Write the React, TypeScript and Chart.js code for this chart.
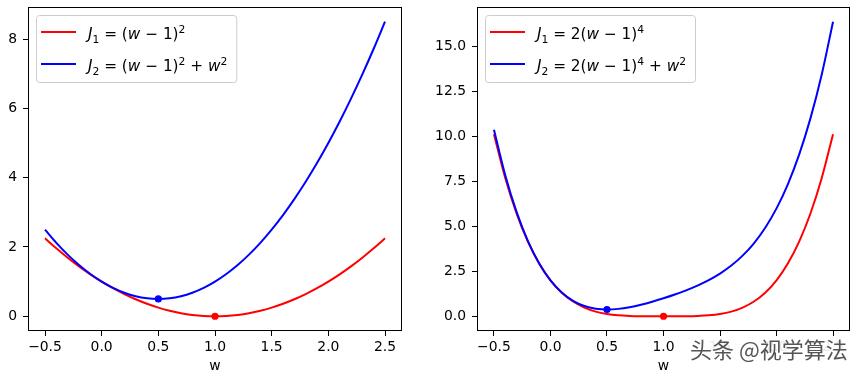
import React, { useEffect, useRef } from 'react';
import { Chart, registerables } from 'chart.js';

Chart.register(...registerables);

// ---------- data ----------
const W_VALUES = [
  -0.5, -0.4, -0.3, -0.2, -0.1, 0, 0.1, 0.2, 0.3, 0.4, 0.5, 0.6, 0.7, 0.8, 0.9, 1.0,
  1.1, 1.2, 1.3, 1.4, 1.5, 1.6, 1.7, 1.8, 1.9, 2.0, 2.1, 2.2, 2.3, 2.4, 2.5,
];

// left panel: J1 = (w-1)^2, J2 = (w-1)^2 + w^2
const LEFT_J1 = [
  2.25, 1.96, 1.69, 1.44, 1.21, 1.0, 0.81, 0.64, 0.49, 0.36, 0.25, 0.16, 0.09, 0.04, 0.01, 0.0,
  0.01, 0.04, 0.09, 0.16, 0.25, 0.36, 0.49, 0.64, 0.81, 1.0, 1.21, 1.44, 1.69, 1.96, 2.25,
];
const LEFT_J2 = [
  2.5, 2.12, 1.78, 1.48, 1.22, 1.0, 0.82, 0.68, 0.58, 0.52, 0.5, 0.52, 0.58, 0.68, 0.82, 1.0,
  1.22, 1.48, 1.78, 2.12, 2.5, 2.92, 3.38, 3.88, 4.42, 5.0, 5.62, 6.28, 6.98, 7.72, 8.5,
];

// right panel: J1 = 2(w-1)^4, J2 = 2(w-1)^4 + w^2
const RIGHT_J1 = [
  10.125, 7.683, 5.712, 4.147, 2.928, 2.0, 1.312, 0.819, 0.48, 0.259, 0.125, 0.051, 0.016, 0.003, 0.0002, 0.0,
  0.0002, 0.003, 0.016, 0.051, 0.125, 0.259, 0.48, 0.819, 1.312, 2.0, 2.928, 4.147, 5.712, 7.683, 10.125,
];
const RIGHT_J2 = [
  10.375, 7.843, 5.802, 4.187, 2.938, 2.0, 1.322, 0.859, 0.57, 0.419, 0.375, 0.411, 0.506, 0.643, 0.81, 1.0,
  1.21, 1.443, 1.706, 2.011, 2.375, 2.819, 3.37, 4.059, 4.922, 6.0, 7.338, 8.987, 11.002, 13.443, 16.375,
];

// minimum markers
const LEFT_MIN_J1 = [{ x: 1.0, y: 0.0 }];
const LEFT_MIN_J2 = [{ x: 0.5, y: 0.5 }];
const RIGHT_MIN_J1 = [{ x: 1.0, y: 0.0 }];
const RIGHT_MIN_J2 = [{ x: 0.5, y: 0.375 }];

// ticks
const X_TICKS = [-0.5, 0, 0.5, 1.0, 1.5, 2.0, 2.5];
const LEFT_Y_TICKS = [0, 2, 4, 6, 8];
const RIGHT_Y_TICKS = [0, 2.5, 5.0, 7.5, 10.0, 12.5, 15.0];

const X_TITLE = 'w';
const WATERMARK = '头条 @视学算法';

// legend labels (math segments)
type Seg = { t: string; it?: boolean; s?: 'sub' | 'sup' };
const LEFT_LABEL_J1: Seg[] = [
  { t: 'J', it: true }, { t: '1', s: 'sub' }, { t: ' = (' }, { t: 'w', it: true }, { t: ' − 1)' }, { t: '2', s: 'sup' },
];
const LEFT_LABEL_J2: Seg[] = [
  { t: 'J', it: true }, { t: '2', s: 'sub' }, { t: ' = (' }, { t: 'w', it: true }, { t: ' − 1)' }, { t: '2', s: 'sup' },
  { t: ' + ' }, { t: 'w', it: true }, { t: '2', s: 'sup' },
];
const RIGHT_LABEL_J1: Seg[] = [
  { t: 'J', it: true }, { t: '1', s: 'sub' }, { t: ' = 2(' }, { t: 'w', it: true }, { t: ' − 1)' }, { t: '4', s: 'sup' },
];
const RIGHT_LABEL_J2: Seg[] = [
  { t: 'J', it: true }, { t: '2', s: 'sub' }, { t: ' = 2(' }, { t: 'w', it: true }, { t: ' − 1)' }, { t: '4', s: 'sup' },
  { t: ' + ' }, { t: 'w', it: true }, { t: '2', s: 'sup' },
];

const RED = '#ff0000';
const BLUE = '#0000ff';
const FONT_FAMILY = '"DejaVu Sans", sans-serif';
const TICK_SIZE = 13.9;
const LEGEND_SIZE = 15.3;

// ---------- helpers ----------
function segFont(seg: Seg, size: number) {
  const sz = seg.s ? size * 0.7 : size;
  return `${seg.it ? 'italic ' : ''}${sz}px ${FONT_FAMILY}`;
}

function drawSegs(ctx: CanvasRenderingContext2D, segs: Seg[], x: number, y: number, size: number, draw: boolean) {
  let cx = x;
  for (const seg of segs) {
    ctx.font = segFont(seg, size);
    const dy = seg.s === 'sub' ? size * 0.22 : seg.s === 'sup' ? -size * 0.42 : 0;
    if (draw) ctx.fillText(seg.t, cx, y + dy);
    cx += ctx.measureText(seg.t).width;
  }
  return cx - x;
}

function roundRect(ctx: CanvasRenderingContext2D, x: number, y: number, w: number, h: number, r: number) {
  ctx.beginPath();
  ctx.moveTo(x + r, y);
  ctx.lineTo(x + w - r, y);
  ctx.quadraticCurveTo(x + w, y, x + w, y + r);
  ctx.lineTo(x + w, y + h - r);
  ctx.quadraticCurveTo(x + w, y + h, x + w - r, y + h);
  ctx.lineTo(x + r, y + h);
  ctx.quadraticCurveTo(x, y + h, x, y + h - r);
  ctx.lineTo(x, y + r);
  ctx.quadraticCurveTo(x, y, x + r, y);
  ctx.closePath();
}

const framePlugin = {
  id: 'frame',
  afterDatasetsDraw(chart: any) {
    const { ctx, chartArea: a } = chart;
    ctx.save();
    ctx.strokeStyle = '#000';
    ctx.lineWidth = 1;
    ctx.strokeRect(a.left + 0.5, a.top + 0.5, a.right - a.left - 1, a.bottom - a.top - 1);
    ctx.restore();
  },
};

const mathLegendPlugin = {
  id: 'mathLegend',
  afterDraw(chart: any, _args: any, opts: any) {
    const rows: { segs: Seg[]; color: string }[] = opts.rows || [];
    if (!rows.length) return;
    const { ctx, chartArea: a } = chart;
    ctx.save();
    let maxW = 0;
    for (const r of rows) maxW = Math.max(maxW, drawSegs(ctx, r.segs, 0, 0, LEGEND_SIZE, false));
    const bx = a.left + 8;
    const by = a.top + 8;
    const bw = 52 + maxW + 9;
    const bh = 67;
    roundRect(ctx, bx + 0.5, by + 0.5, bw, bh, 3);
    ctx.fillStyle = 'rgba(255,255,255,0.8)';
    ctx.fill();
    ctx.strokeStyle = '#cccccc';
    ctx.lineWidth = 1;
    ctx.stroke();
    rows.forEach((r, i) => {
      const cy = by + 17 + i * 32;
      ctx.strokeStyle = r.color;
      ctx.lineWidth = 2;
      ctx.beginPath();
      ctx.moveTo(bx + 5, cy);
      ctx.lineTo(bx + 40, cy);
      ctx.stroke();
      ctx.fillStyle = '#000';
      ctx.textBaseline = 'alphabetic';
      ctx.textAlign = 'left';
      drawSegs(ctx, r.segs, bx + 52, cy + 7.4, LEGEND_SIZE, true);
    });
    ctx.restore();
  },
};

const watermarkPlugin = {
  id: 'watermark',
  afterDraw(chart: any, _args: any, opts: any) {
    if (!opts.text) return;
    const { ctx } = chart;
    ctx.save();
    ctx.fillStyle = 'rgba(255,255,255,0.9)';
    ctx.fillRect(256, 337, 168, 27);
    ctx.font = `22px "Noto Sans CJK SC", sans-serif`;
    ctx.textBaseline = 'middle';
    ctx.textAlign = 'left';
    ctx.fillStyle = '#555555';
    ctx.fillText(opts.text, 260, 350);
    ctx.restore();
  },
};

function fmtX(v: number) {
  return v.toFixed(1).replace('-', '−');
}

type PanelCfg = {
  j1: number[];
  j2: number[];
  min1: { x: number; y: number }[];
  min2: { x: number; y: number }[];
  yMin: number;
  yMax: number;
  yTicks: number[];
  yFmt: (v: number) => string;
  legendRows: { segs: Seg[]; color: string }[];
  yAxisWidth: number;
  rightPad: number;
  watermark?: string;
};

function buildConfig(p: PanelCfg): any {
  const tickFont = { family: FONT_FAMILY, size: TICK_SIZE };
  const toXY = (vals: number[]) => W_VALUES.map((w, i) => ({ x: w, y: vals[i] }));
  return {
    type: 'line',
    data: {
      datasets: [
        { type: 'scatter', data: p.min1, backgroundColor: RED, borderWidth: 0, pointRadius: 3.6, order: 0 },
        { type: 'scatter', data: p.min2, backgroundColor: BLUE, borderWidth: 0, pointRadius: 3.6, order: 0 },
        { data: toXY(p.j2), borderColor: BLUE, borderWidth: 2, pointRadius: 0, cubicInterpolationMode: 'monotone', fill: false, order: 1 },
        { data: toXY(p.j1), borderColor: RED, borderWidth: 2, pointRadius: 0, cubicInterpolationMode: 'monotone', fill: false, order: 2 },
      ],
    },
    options: {
      responsive: false,
      animation: false,
      devicePixelRatio: 1,
      layout: { padding: { left: 0, right: p.rightPad, top: 7, bottom: 0 } },
      plugins: {
        legend: { display: false },
        tooltip: { enabled: false },
        mathLegend: { rows: p.legendRows },
        watermark: { text: p.watermark || '' },
      },
      scales: {
        x: {
          type: 'linear',
          min: -0.65,
          max: 2.65,
          afterBuildTicks: (s: any) => {
            s.ticks = X_TICKS.map((v) => ({ value: v }));
          },
          afterFit: (s: any) => {
            s.height = 45;
            s.paddingLeft = 0;
            s.paddingRight = 0;
          },
          ticks: {
            callback: (v: number) => fmtX(v),
            font: tickFont,
            color: '#000',
            padding: 3,
            maxRotation: 0,
            autoSkip: false,
          },
          grid: { display: true, drawOnChartArea: false, drawTicks: true, tickLength: 5, color: '#000', lineWidth: 1 },
          border: { display: false },
          title: { display: true, text: X_TITLE, font: tickFont, color: '#000', padding: { top: 0, bottom: 1 } },
        },
        y: {
          type: 'linear',
          min: p.yMin,
          max: p.yMax,
          afterBuildTicks: (s: any) => {
            s.ticks = p.yTicks.map((v) => ({ value: v }));
          },
          afterFit: (s: any) => {
            s.width = p.yAxisWidth;
            s.paddingTop = 0;
            s.paddingBottom = 0;
          },
          ticks: {
            callback: (v: number) => p.yFmt(v),
            font: tickFont,
            color: '#000',
            padding: 6,
            autoSkip: false,
          },
          grid: { display: true, drawOnChartArea: false, drawTicks: true, tickLength: 5, color: '#000', lineWidth: 1 },
          border: { display: false },
        },
      },
    },
    plugins: [framePlugin, mathLegendPlugin, watermarkPlugin],
  };
}

export default function App() {
  const leftRef = useRef<HTMLCanvasElement | null>(null);
  const rightRef = useRef<HTMLCanvasElement | null>(null);

  useEffect(() => {
    const left = new Chart(
      leftRef.current as HTMLCanvasElement,
      buildConfig({
        j1: LEFT_J1,
        j2: LEFT_J2,
        min1: LEFT_MIN_J1,
        min2: LEFT_MIN_J2,
        yMin: -0.425,
        yMax: 8.925,
        yTicks: LEFT_Y_TICKS,
        yFmt: (v) => String(v),
        legendRows: [
          { segs: LEFT_LABEL_J1, color: RED },
          { segs: LEFT_LABEL_J2, color: BLUE },
        ],
        yAxisWidth: 28,
        rightPad: 28,
      })
    );
    const right = new Chart(
      rightRef.current as HTMLCanvasElement,
      buildConfig({
        j1: RIGHT_J1,
        j2: RIGHT_J2,
        min1: RIGHT_MIN_J1,
        min2: RIGHT_MIN_J2,
        yMin: -0.819,
        yMax: 17.194,
        yTicks: RIGHT_Y_TICKS,
        yFmt: (v) => v.toFixed(1),
        legendRows: [
          { segs: RIGHT_LABEL_J1, color: RED },
          { segs: RIGHT_LABEL_J2, color: BLUE },
        ],
        yAxisWidth: 47,
        rightPad: 9,
        watermark: WATERMARK,
      })
    );
    return () => {
      left.destroy();
      right.destroy();
    };
  }, []);

  return (
    <div style={{ position: 'absolute', left: 0, top: 0, width: 859, height: 376, background: '#fff', overflow: 'hidden' }}>
      <canvas ref={leftRef} width={430} height={376} style={{ position: 'absolute', left: 0, top: 0, display: 'block' }} />
      <canvas ref={rightRef} width={429} height={376} style={{ position: 'absolute', left: 430, top: 0, display: 'block' }} />
    </div>
  );
}
